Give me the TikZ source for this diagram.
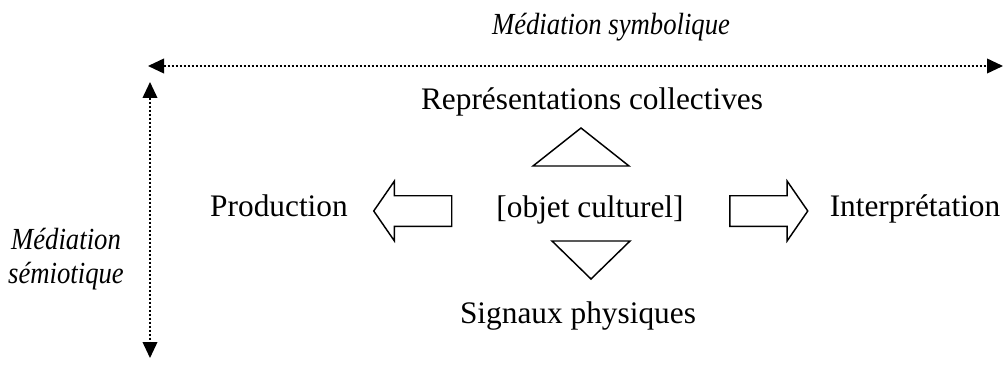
\documentclass[tikz,border=0pt]{standalone}
\usepackage{fontspec}
\setmainfont{Liberation Serif}
\newfontfamily\medfont{Liberation Serif}[FakeStretch=0.87]
\usetikzlibrary{arrows.meta,shapes.arrows}

\begin{document}
\begin{tikzpicture}[
  x=0.75pt, y=-0.75pt,
  >={Triangle[length=12pt,width=11pt]},
  lbl/.style    = {font=\fontsize{23.5}{28}\selectfont, inner sep=0pt, anchor=base},
  medlbl/.style = {lbl, font=\medfont\itshape\fontsize{23}{25}\selectfont, align=center},
  axis/.style   = {<->, line width=1.25pt, dash pattern=on 1.5pt off 1.5pt},
  blockarrow/.style = {
    draw, single arrow, line width=1.1pt,
    minimum height=58.5pt,
    inner xsep=0pt, inner ysep=10.9pt,
    single arrow head extend=10.9pt,
    single arrow tip angle=110.8
  },
  tri/.style = {draw, line width=1.1pt, line join=miter}
]
\useasboundingbox (0,0) rectangle (1005,367);

% ---- axes ----
\coordinate (hL) at (148,66);
\coordinate (hR) at (1003,66);
\coordinate (vT) at (150,82);
\coordinate (vB) at (150,358);
\draw[axis] (hL) -- (hR);
\draw[axis] (vT) -- (vB);

\node[medlbl] (sym) at (611,35) {Médiation symbolique};
\node[medlbl] (sem) at (66,283) {Médiation\\sémiotique};

% ---- labels ----
\node[lbl] (rep)    at (592,110) {Représentations collectives};
\node[lbl] (prod)   at (279,216) {Production};
\node[lbl] (obj)    at (590,217) {[objet culturel]};
\node[lbl] (interp) at (915,216) {Interprétation};
\node[lbl] (sig)    at (578,323) {Signaux physiques};

% ---- block arrows ----
\node[blockarrow, shape border rotate=180] (arrL) at (418,211) {};
\node[blockarrow] (arrR) at (763.5,211) {};

% ---- triangles ----
\draw[tri] (533,166) -- (581,128) -- (629,166) -- cycle;
\draw[tri] (552,241) -- (630,241) -- (591,279) -- cycle;

\end{tikzpicture}
\end{document}
